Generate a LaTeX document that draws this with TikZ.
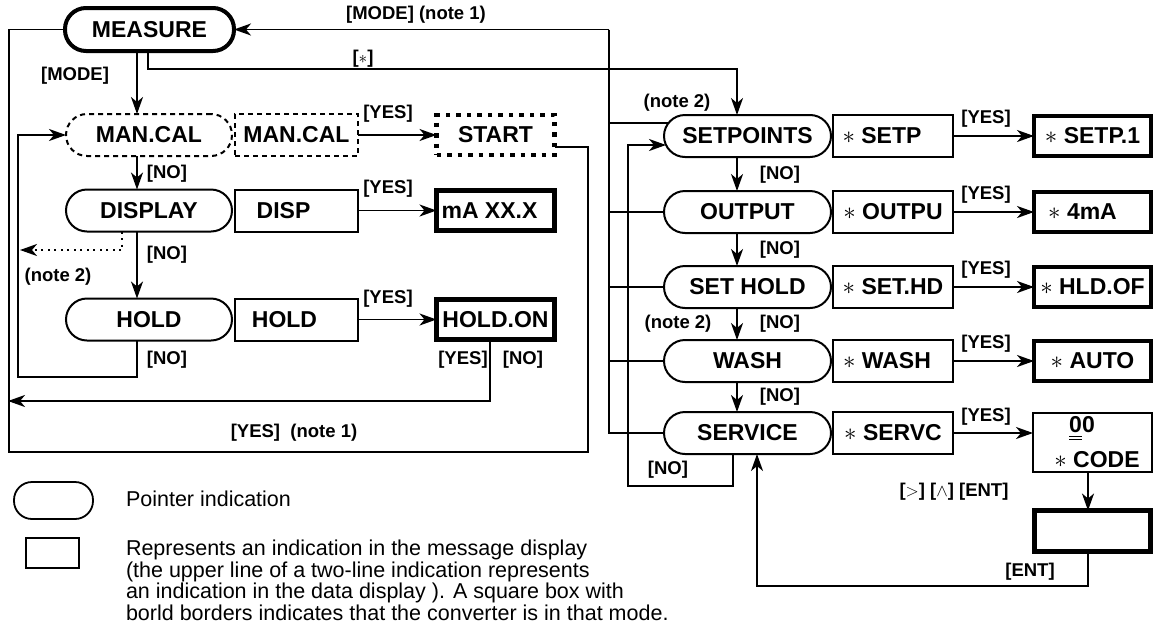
\documentclass[tikz,border=0pt]{standalone}
\usepackage{fontspec}
\setmainfont{Liberation Sans}
\usetikzlibrary{arrows.meta,calc}
\newcommand{\nodefont}{\fontsize{23}{26}\selectfont\bfseries}
\newcommand{\lblfont}{\fontsize{18.5}{21}\selectfont\bfseries}
\newcommand{\legfont}{\fontsize{21.5}{21.5}\selectfont}
\newcommand{\astk}{$\ast$}
\begin{document}
\begin{tikzpicture}[x=1pt,y=-1pt,
  every node/.style={inner sep=0pt, outer sep=0pt},
  ln/.style={line width=1.8pt},
  arr/.style={ln, -{Stealth[length=17pt,width=12pt,inset=5pt]}},
  ptr/.style={draw, line width=2pt, rounded corners=21pt, minimum width=166pt, minimum height=42pt, font=\nodefont},
  box/.style={draw, line width=2pt, minimum width=123pt, minimum height=42pt, font=\nodefont},
  res/.style={draw, line width=4.5pt, minimum width=118pt, minimum height=40pt, font=\nodefont},
  lbl/.style={font=\lblfont},
  leg/.style={font=\legfont},
]
\useasboundingbox (0,0) rectangle (1158,627);
\fill[white] (0,0) rectangle (1158,627);

% ---------- left column ----------
\node[ptr, line width=4pt, minimum width=169pt, minimum height=43pt] (measure) at (149.5,29.5) {MEASURE};
\node[ptr, dash pattern=on 5pt off 4pt] (mancal) at (149,135) {MAN.CAL};
\node[box, dash pattern=on 5pt off 4pt] (mancalb) at (296.5,135) {MAN.CAL};
\node[res, dash pattern=on 4.5pt off 6pt] (start) at (495.5,135) {START};

\node[ptr] (display) at (149,210.5) {DISPLAY};
\node[box] (disp) at (296.5,210.5) {DISP\hspace*{26pt}};
\node[res] (ma) at (495.5,210.5) {mA XX.X\hspace*{12pt}};

\node[ptr] (hold) at (149,319.5) {HOLD};
\node[box] (holdb) at (296.5,319.5) {HOLD\hspace*{24pt}};
\node[res] (holdon) at (495.5,319.5) {HOLD.ON};

% ---------- right column ----------
\node[ptr, minimum width=167pt] (setpoints) at (747.5,136) {SETPOINTS};
\node[box, minimum width=120pt] (setp) at (893,136) {\astk\ SETP\hspace*{22pt}};
\node[res, minimum width=117pt] (setp1) at (1092.5,136) {\astk\ SETP.1};

\node[ptr, minimum width=167pt] (output) at (747.5,212) {OUTPUT};
\node[box, minimum width=120pt] (outpu) at (893,212) {\astk\ OUTPU};
\node[res, minimum width=117pt] (ma4) at (1092.5,212) {\astk\ 4mA\hspace*{20pt}};

\node[ptr, minimum width=167pt] (sethold) at (747.5,287) {SET HOLD};
\node[box, minimum width=120pt] (sethd) at (893,287) {\astk\ SET.HD};
\node[res, minimum width=117pt] (hldof) at (1092.5,287) {\astk\ HLD.OF};

\node[ptr, minimum width=167pt] (wash) at (747.5,361) {WASH};
\node[box, minimum width=120pt] (washb) at (893,361) {\astk\ WASH\hspace*{12pt}};
\node[res, minimum width=117pt] (auto) at (1092.5,361) {\astk\ AUTO};

\node[ptr, minimum width=167pt] (service) at (747.5,433) {SERVICE};
\node[box, minimum width=120pt] (servc) at (893,433) {\astk\ SERVC};
\node[box, minimum width=119pt, minimum height=59pt, align=center] (code) at (1092.5,442.5)
  {\rlap{\rule[-4pt]{12.8pt}{1.3pt}}\rlap{\rule[-7.5pt]{12.8pt}{1.3pt}}00\hspace*{21pt}\\[9pt]\hspace*{9pt}\astk\ CODE};
\node[res, line width=5pt, minimum width=116pt, minimum height=41pt] (blank) at (1092.5,531) {};

% ---------- coordinates ----------
\coordinate (outerL) at (9,452);
\coordinate (outerR) at (588,452);
\coordinate (bus) at (609,29.5);
\coordinate (innerL) at (18,377);
\coordinate (yesL) at (8,401);
\coordinate (dotL) at (20,250);
\coordinate (noR) at (628,486);
\coordinate (entB) at (757,586);
\coordinate (setpA) at ($(setpoints.west)+(4.5,-13)$);
\coordinate (setpB) at ($(setpoints.west)+(2,9)$);

% ---------- left connectors ----------
\draw[ln] ([yshift=-12pt]start.east) -| (outerR) -- (outerL) |- (measure.west);
\draw[arr] ([xshift=-12.5pt]measure.south) -- ([xshift=-12pt]mancal.north);
\draw[arr] ([xshift=-12pt]mancal.south) -- ([xshift=-12pt]display.north);
\draw[arr] ([xshift=-12pt]display.south) -- ([xshift=-12pt]hold.north);
\draw[arr] (mancalb.east) -- (start.west);
\draw[arr] (disp.east) -- (ma.west);
\draw[arr] (holdb.east) -- (holdon.west);
\draw[arr] ([xshift=-12pt]hold.south) |- (innerL) |- (mancal.west);
\draw[arr] ([xshift=-5.5pt]holdon.south) |- (yesL);
\draw[arr, dash pattern=on 2pt off 4.5pt] ([xshift=-27pt]display.south) |- (dotL);

% ---------- bus and [*] ----------
\draw[arr] (bus) -- (measure.east);
\draw[ln] (bus) |- (service.west);
\draw[ln] (bus |- setpA) -- (setpA);
\draw[ln] (bus |- output.west) -- (output.west);
\draw[ln] (bus |- sethold.west) -- (sethold.west);
\draw[ln] (bus |- wash.west) -- (wash.west);
\draw[arr] ([xshift=-1.5pt]measure.south) -- ++(0,18) -| ([xshift=-10.5pt]setpoints.north);

% ---------- right connectors ----------
\draw[arr] ([xshift=-10.5pt]setpoints.south) -- ([xshift=-10.5pt]output.north);
\draw[arr] ([xshift=-10.5pt]output.south) -- ([xshift=-10.5pt]sethold.north);
\draw[arr] ([xshift=-10.5pt]sethold.south) -- ([xshift=-10.5pt]wash.north);
\draw[arr] ([xshift=-10.5pt]wash.south) -- ([xshift=-10.5pt]service.north);
\draw[arr] (setp.east) -- (setp1.west);
\draw[arr] (outpu.east) -- (ma4.west);
\draw[arr] (sethd.east) -- (hldof.west);
\draw[arr] (washb.east) -- (auto.west);
\draw[arr] (servc.east) -- (servc.east -| code.west);
\draw[arr] ([xshift=-14.5pt]service.south) |- (noR) |- (setpB);
\draw[arr] ([xshift=-4.5pt]code.south) -- ([xshift=-4.5pt]blank.north);
\draw[arr] ([xshift=-4.5pt]blank.south) |- (entB) -- ([xshift=9.5pt]service.south);

% ---------- labels ----------
\node[lbl] (lmode1) at (416,15) {[MODE] (note 1)};
\node[lbl] (lstar) at (363,59) {[$\ast$]};
\node[lbl] (lmode) at (75,76) {[MODE]};
\node[lbl] (lyes1) at (388,114) {[YES]};
\node[lbl] (lno1) at (167,174) {[NO]};
\node[lbl] (lyes2) at (388,189) {[YES]};
\node[lbl] (lno2) at (167,255) {[NO]};
\node[lbl] (lnote2a) at (58,277) {(note 2)};
\node[lbl] (lyes3) at (388,299) {[YES]};
\node[lbl] (lno3) at (167,360) {[NO]};
\node[lbl] (lyes4) at (463,360) {[YES]};
\node[lbl] (lno4) at (523,360) {[NO]};
\node[lbl] (lyesn) at (294,433) {[YES]\ \ (note 1)};

\node[lbl] (lnote2b) at (677,103) {(note 2)};
\node[lbl] (ryes1) at (986,119) {[YES]};
\node[lbl] (rno1) at (780,175) {[NO]};
\node[lbl] (ryes2) at (986,195) {[YES]};
\node[lbl] (rno2) at (780,250) {[NO]};
\node[lbl] (ryes3) at (986,270) {[YES]};
\node[lbl] (rno3) at (780,324) {[NO]};
\node[lbl] (lnote2c) at (678,324) {(note 2)};
\node[lbl] (ryes4) at (986,344) {[YES]};
\node[lbl] (rno4) at (780,397) {[NO]};
\node[lbl] (ryes5) at (986,417) {[YES]};
\node[lbl] (rno5) at (668,470) {[NO]};
\node[lbl] (keys) at (954,492) {[$>$] [$\wedge$] [ENT]};
\node[lbl] (lent) at (1030,572) {[ENT]};

% ---------- legend ----------
\node[draw, line width=1.8pt, rounded corners=18pt, minimum width=79pt, minimum height=37pt] (legp) at (53.5,500.5) {};
\node[draw, line width=1.8pt, minimum width=53pt, minimum height=30pt] (legb) at (52.5,553) {};
\node[leg, anchor=west] (legt1) at (126,499) {Pointer indication};
\node[leg, anchor=north west, align=left] (legt2) at (126,540)
  {Represents an indication in the message display\\
   (the upper line of a two-line indication represents\\
   an indication in the data display ). A square box with\\
   borld borders indicates that the converter is in that mode.};
\end{tikzpicture}
\end{document}
